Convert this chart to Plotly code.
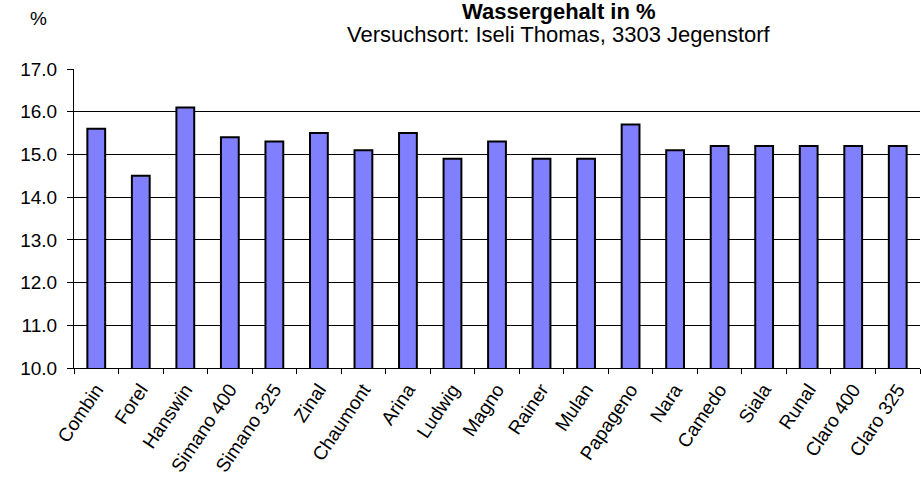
import plotly.graph_objects as go

categories = ["Combin", "Forel", "Hanswin", "Simano 400", "Simano 325", "Zinal",
              "Chaumont", "Arina", "Ludwig", "Magno", "Rainer", "Mulan", "Papageno",
              "Nara", "Camedo", "Siala", "Runal", "Claro 400", "Claro 325"]
values = [15.6, 14.5, 16.1, 15.4, 15.3, 15.5, 15.1, 15.5, 14.9, 15.3, 14.9, 14.9,
          15.7, 15.1, 15.2, 15.2, 15.2, 15.2, 15.2]
y_ticks = [10, 11, 12, 13, 14, 15, 16, 17]
y_ticklabels = ["10.0", "11.0", "12.0", "13.0", "14.0", "15.0", "16.0", "17.0"]

FONT = "Liberation Sans, Arial, sans-serif"
L, T, R, B = 74, 69, 920, 368
PW, PH = R - L, B - T

fig = go.Figure(go.Bar(
    x=categories, y=values,
    marker=dict(color="#8080FF", line=dict(color="black", width=2)),
))

fig.update_layout(
    width=921, height=484,
    margin=dict(l=L, r=921 - R, t=T, b=484 - B, autoexpand=False),
    paper_bgcolor="white", plot_bgcolor="white",
    bargap=0.6, showlegend=False,
    font=dict(family=FONT, size=19, color="black"),
    xaxis=dict(
        type="category", tickson="boundaries", ticks="outside", ticklen=5,
        tickcolor="black", tickwidth=1, tickangle=-56, automargin=False,
        showline=True, linecolor="black", linewidth=1,
        showgrid=False, tickfont=dict(size=19), ticklabelstandoff=2,
    ),
    yaxis=dict(
        range=[10, 17], tickvals=y_ticks, ticktext=y_ticklabels, automargin=False,
        ticks="outside", ticklen=6, tickcolor="black",
        showline=True, linecolor="black", linewidth=1,
        showgrid=True, gridcolor="black", gridwidth=1,
        tickfont=dict(size=19), zeroline=False, ticklabelstandoff=6,
    ),
    annotations=[
        dict(text="<b>Wassergehalt in %</b>", xref="paper", yref="paper",
             x=(559 - L) / PW, y=1 + (T + 3) / PH, xanchor="center", yanchor="top",
             showarrow=False, font=dict(size=22)),
        dict(text="Versuchsort: Iseli Thomas, 3303 Jegenstorf", xref="paper", yref="paper",
             x=(559 - L) / PW, y=1 + (T - 20) / PH, xanchor="center", yanchor="top",
             showarrow=False, font=dict(size=22)),
        dict(text="%", xref="paper", yref="paper",
             x=(38 - L) / PW, y=1 + (T - 6) / PH, xanchor="center", yanchor="top",
             showarrow=False, font=dict(size=19)),
    ],
)

fig.write_html("out.html", config={"displayModeBar": False},
               post_script="document.body.style.margin='0';")
